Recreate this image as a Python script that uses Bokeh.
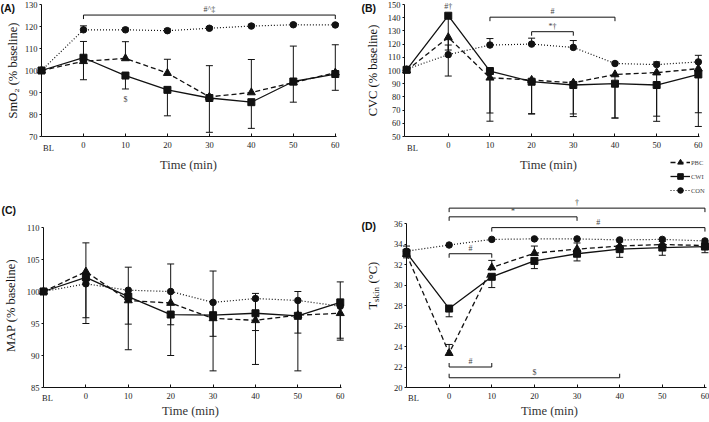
import math
from bokeh.plotting import figure
from bokeh.models import (ColumnDataSource, Whisker, TeeHead, Label, Legend, LegendItem,
                          FixedTicker, Range1d)
from bokeh.layouts import row, column
from bokeh.embed import file_html
from bokeh.resources import INLINE

# ---------------- data ----------------
times = [-10, 0, 10, 20, 30, 40, 50, 60]          # -10 is the baseline (BL)
x_tick_values = [0, 10, 20, 30, 40, 50, 60]
bl_label = "BL"
groups = ["PBC", "CWI", "CON"]

# (A) SmO2 (% baseline)
smo2_pbc = [100, 104.2, 105.5, 98.8, 88.0, 90.0, 94.5, 99.0]
smo2_cwi = [100, 105.8, 97.7, 91.2, 87.5, 85.6, 95.0, 98.4]
smo2_con = [100, 118.5, 118.5, 118.1, 119.2, 120.2, 120.8, 120.7]
smo2_pbc_up = [0, 9.0, 7.6, 6.3, 14.2, 15.0, 16.6, 12.7]
smo2_cwi_dn = [0, 10.0, 6.1, 11.8, 15.6, 11.9, 9.4, 7.4]
smo2_con_up = [0, 1.8, 0.8, 0.8, 0.7, 0.8, 0.6, 0.6]

# (B) CVC (% baseline)
cvc_pbc = [100, 125.1, 94.5, 92.8, 90.7, 97.0, 98.4, 101.4]
cvc_cwi = [100.5, 141.5, 99.6, 91.5, 89.0, 90.0, 89.0, 97.0]
cvc_con = [101, 112.0, 119.3, 120.0, 117.5, 105.3, 104.5, 106.5]
cvc_pbc_dn = [0, 29.3, 26.7, 25.5, 23.6, 33.0, 33.0, 33.4]
cvc_cwi_dn = [0, 26.0, 38.0, 24.5, 23.9, 26.0, 27.5, 39.4]
cvc_con_up = [0, 7.3, 4.9, 4.5, 5.2, 1.0, 2.0, 5.0]

# (C) MAP (% baseline)
map_pbc = [100, 103.1, 98.6, 98.2, 95.8, 95.5, 96.3, 96.6]
map_cwi = [100, 102.2, 99.2, 96.4, 96.3, 96.6, 96.2, 98.3]
map_con = [100, 101.2, 100.2, 100.0, 98.3, 98.9, 98.6, 97.7]
map_pbc_up = [0, 4.5, 5.2, 6.1, 7.4, 4.2, 3.7, 4.9]
map_cwi_dn = [0, 6.3, 8.3, 6.4, 8.7, 8.0, 8.6, 5.9]
map_con_dn = [0, 6.2, 5.3, 5.2, 5.3, 5.0, 5.1, 5.0]

# (D) Tskin (deg C)
tsk_pbc = [33.0, 23.35, 31.7, 33.1, 33.5, 33.8, 33.95, 33.85]
tsk_cwi = [33.15, 27.7, 30.8, 32.35, 33.05, 33.5, 33.65, 33.75]
tsk_con = [33.3, 33.9, 34.45, 34.5, 34.5, 34.4, 34.45, 34.3]
tsk_pbc_up = [0.8, 0.85, 0.7, 0.7, 0.6, 0.4, 0.3, 0.3]
tsk_cwi_dn = [0.5, 0.8, 1.05, 0.75, 0.7, 0.8, 0.75, 0.6]

# significance brackets: (start, end, level, label, tick direction)
smo2_brackets = [(0, 60, 125.2, "#^\u2021", -1)]
cvc_brackets = [(10, 40, 140.4, "#", -1), (20, 30, 129.4, "*\u2020", -1)]
tsk_brackets = [(0, 60, 37.5, "\u2020", -1), (0, 30, 36.65, "*", -1), (10, 60, 35.6, "#", -1),
                (0, 10, 33.05, "#", -1), (0, 10, 22.0, "#", 1), (0, 40, 20.95, "$", 1)]
smo2_marks = [(10, 87.0, "$")]
cvc_marks = [(0, 148.3, "#\u2020")]

# ---------------- styling ----------------
INK = "#111111"
SERIF = "Liberation Serif"
styles = {
    "PBC": dict(dash="5 3", marker="triangle", size=8, lw=1.3),
    "CWI": dict(dash="solid", marker="square", size=7, lw=1.3),
    "CON": dict(dash="1 2", marker="circle", size=6.5, lw=1.2),
}


class Geo:
    """Page geometry of one panel: figure box and the (virtual) plotting box."""
    def __init__(self, fx, fy, w, h, l, r, t, b, xr, yr):
        self.fx, self.fy, self.w, self.h = fx, fy, w, h
        self.l, self.r, self.t, self.b = l, r, t, b
        self.xr, self.yr = xr, yr   # data values at l..r and b..t

    def dx(self, px):
        return self.xr[0] + (px - self.l) / (self.r - self.l) * (self.xr[1] - self.xr[0])

    def dy(self, py):
        return self.yr[0] + (self.b - py) / (self.b - self.t) * (self.yr[1] - self.yr[0])

    def ppu(self):
        return (self.b - self.t) / (self.yr[1] - self.yr[0])


def text(p, g, px, py, s, size="8px", font=SERIF, style="normal", align="center",
         baseline="middle", angle=0.0, color=INK):
    p.add_layout(Label(x=g.dx(px), y=g.dy(py), text=s, text_font=font, text_font_size=size,
                       text_font_style=style, text_align=align, text_baseline=baseline,
                       angle=angle, text_color=color))


def make_panel(g, yticks, ybounds, xbound_end):
    p = figure(width=g.w, height=g.h,
               x_range=Range1d(g.dx(g.fx), g.dx(g.fx + g.w)),
               y_range=Range1d(g.dy(g.fy + g.h), g.dy(g.fy)),
               output_backend="svg", toolbar_location=None,
               min_border_left=0, min_border_right=0, min_border_top=0, min_border_bottom=0)
    p.outline_line_color = None
    p.xgrid.visible = False
    p.ygrid.visible = False
    p.background_fill_color = "white"
    p.border_fill_color = "white"
    ax = p.xaxis[0]
    ax.fixed_location = g.yr[0]
    ax.ticker = FixedTicker(ticks=x_tick_values)
    ax.bounds = (g.xr[0], xbound_end)
    ax.major_tick_in = 3
    ax.major_tick_out = 0
    ax.minor_tick_line_color = None
    ax.major_label_standoff = 5
    ax.major_label_text_font = SERIF
    ax.major_label_text_font_size = "8.5px"
    ax.major_label_text_color = "#222222"
    ax.axis_line_color = INK
    ax.major_tick_line_color = INK
    ay = p.yaxis[0]
    ay.fixed_location = g.xr[0]
    ay.ticker = FixedTicker(ticks=yticks)
    ay.bounds = ybounds
    ay.major_tick_in = 0
    ay.major_tick_out = 2
    ay.minor_tick_line_color = None
    ay.major_label_standoff = 2
    ay.major_label_text_font = SERIF
    ay.major_label_text_font_size = "8.5px"
    ay.major_label_text_color = "#222222"
    ay.axis_line_color = INK
    ay.major_tick_line_color = INK
    return p


def add_errors(p, vals, up, dn):
    xs_u = [t for t, e in zip(times, up) if e > 0]
    b_u = [v for v, e in zip(vals, up) if e > 0]
    u_u = [v + e for v, e in zip(vals, up) if e > 0]
    if xs_u:
        src = ColumnDataSource(dict(x=xs_u, lower=b_u, upper=u_u))
        p.add_layout(Whisker(source=src, base="x", lower="lower", upper="upper",
                             dimension="height", line_color=INK, line_width=1,
                             upper_head=TeeHead(size=7, line_color=INK, line_width=1),
                             lower_head=None))
    xs_d = [t for t, e in zip(times, dn) if e > 0]
    b_d = [v for v, e in zip(vals, dn) if e > 0]
    l_d = [v - e for v, e in zip(vals, dn) if e > 0]
    if xs_d:
        src = ColumnDataSource(dict(x=xs_d, lower=l_d, upper=b_d))
        p.add_layout(Whisker(source=src, base="x", lower="lower", upper="upper",
                             dimension="height", line_color=INK, line_width=1,
                             lower_head=TeeHead(size=7, line_color=INK, line_width=1),
                             upper_head=None))


def add_series(p, name, vals):
    st = styles[name]
    src = ColumnDataSource(dict(x=times, y=vals))
    lr = p.line("x", "y", source=src, line_color=INK, line_width=st["lw"], line_dash=st["dash"])
    sr = p.scatter("x", "y", source=src, marker=st["marker"], size=st["size"],
                   fill_color=INK, line_color=INK)
    return lr, sr


def add_brackets(p, g, brackets, tick_px=4):
    tick = tick_px / g.ppu()
    xs, ys = [], []
    for a, b, lev, lab, d in brackets:
        xs.append([a, a, b, b])
        ys.append([lev + d * tick, lev, lev, lev + d * tick])
        p.add_layout(Label(x=(a + b) / 2, y=lev, text=lab, text_font=SERIF,
                           text_font_size="8px", text_align="center", text_baseline="bottom",
                           y_offset=1, text_color="#444444"))
    p.multi_line(xs, ys, line_color=INK, line_width=1)


def add_marks(p, marks):
    for x, y, lab in marks:
        p.add_layout(Label(x=x, y=y, text=lab, text_font=SERIF, text_font_size="8px",
                           text_align="center", text_baseline="middle", text_color="#444444"))


def decorate(p, g, letter, letter_xy, ytitle_xy, xtitle_xy, bl_xy, ytitle=None):
    text(p, g, letter_xy[0], letter_xy[1], letter, size="10.5px", font="Liberation Sans",
         style="bold", align="left", baseline="top")
    if ytitle is not None:
        text(p, g, ytitle_xy[0], ytitle_xy[1], ytitle, size="12.5px", angle=math.pi / 2)
    text(p, g, xtitle_xy[0], xtitle_xy[1], "Time (min)", size="12.5px", color="#333333")
    text(p, g, bl_xy[0], bl_xy[1], bl_label, size="8.5px", color="#222222")


TOP_H = 197
BOT_H = 422 - TOP_H

# ---------------- panel A ----------------
gA = Geo(0, 0, 360, TOP_H, 41, 339, 4, 136, (-10, 61), (70, 130))
pA = make_panel(gA, list(range(70, 131, 10)), (70, 130), 60.3)
add_errors(pA, smo2_pbc, smo2_pbc_up, [0] * 8)
add_errors(pA, smo2_cwi, [0] * 8, smo2_cwi_dn)
add_errors(pA, smo2_con, smo2_con_up, [0] * 8)
for nm, v in zip(groups, [smo2_pbc, smo2_cwi, smo2_con]):
    add_series(pA, nm, v)
add_brackets(pA, gA, smo2_brackets)
add_marks(pA, smo2_marks)
decorate(pA, gA, "(A)", (0, 1), (12, 70), (188, 164), (48, 147), "SmO\u2082 (% baseline)")

# ---------------- panel B ----------------
gB = Geo(360, 0, 349, TOP_H, 404, 702, 4, 136, (-10.5, 61), (50, 150))
pB = make_panel(gB, list(range(50, 151, 10)), (50, 150), 60.3)
add_errors(pB, cvc_pbc, [0] * 8, cvc_pbc_dn)
add_errors(pB, cvc_cwi, [0] * 8, cvc_cwi_dn)
add_errors(pB, cvc_con, cvc_con_up, [0] * 8)
rend = {}
for nm, v in zip(groups, [cvc_pbc, cvc_cwi, cvc_con]):
    rend[nm] = add_series(pB, nm, v)
add_brackets(pB, gB, cvc_brackets)
add_marks(pB, cvc_marks)
decorate(pB, gB, "(B)", (361, 1), (372, 70), (548, 164), (412, 147), "CVC (% baseline)")
legend = Legend(items=[LegendItem(label=nm, renderers=list(rend[nm])) for nm in groups],
                location=(310, 0), orientation="vertical", glyph_width=20, glyph_height=14,
                label_height=14, spacing=0, padding=0, margin=0, border_line_color=None,
                background_fill_alpha=0, label_text_font=SERIF, label_text_font_size="6.5px",
                label_standoff=1)
pB.add_layout(legend)

# ---------------- panel C ----------------
gC = Geo(0, TOP_H, 360, BOT_H, 43, 344, 227, 387, (-10, 61), (85, 110))
pC = make_panel(gC, list(range(85, 111, 5)), (85, 110), 60.3)
add_errors(pC, map_pbc, map_pbc_up, [0] * 8)
add_errors(pC, map_cwi, [0] * 8, map_cwi_dn)
add_errors(pC, map_con, [0] * 8, map_con_dn)
for nm, v in zip(groups, [map_pbc, map_cwi, map_con]):
    add_series(pC, nm, v)
decorate(pC, gC, "(C)", (1, 203), (10, 305), (190, 410), (47, 397), "MAP (% baseline)")

# ---------------- panel D ----------------
gD = Geo(360, TOP_H, 349, BOT_H, 406, 707, 223, 387, (-10, 60.6), (20, 36))
pD = make_panel(gD, list(range(20, 37, 2)), (20, 36), 60.3)
add_errors(pD, tsk_pbc, tsk_pbc_up, [0] * 8)
add_errors(pD, tsk_cwi, [0] * 8, tsk_cwi_dn)
for nm, v in zip(groups, [tsk_pbc, tsk_cwi, tsk_con]):
    add_series(pD, nm, v)
add_brackets(pD, gD, tsk_brackets)
decorate(pD, gD, "(D)", (361, 219), None, (549, 410), (413, 397), None)
# y title with subscript, built from pieces (rotated, reading upwards)
y0 = 309
text(pD, gD, 372, y0, "T", size="12.5px", align="left", angle=math.pi / 2)
text(pD, gD, 375, y0 - 7.6, "skin", size="9px", align="left", angle=math.pi / 2)
text(pD, gD, 372, y0 - 26.0, "(\u00b0C)", size="12.5px", align="left", angle=math.pi / 2)

layout = column(row(pA, pB), row(pC, pD))
open("out.html", "w").write(file_html(layout, INLINE))
